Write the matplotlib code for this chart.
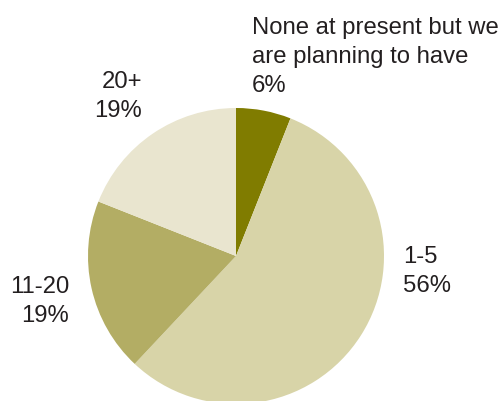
import matplotlib
matplotlib.use("Agg")
import matplotlib.pyplot as plt

labels = ["None at present but we\nare planning to have", "1-5", "11-20", "20+"]
shares = [6, 56, 19, 19]
colors = ["#807c00", "#d8d4a8", "#b3ad64", "#e9e5cf"]

plt.rcParams["font.family"] = ["Liberation Sans", "DejaVu Sans"]

W, H = 502, 401
fig = plt.figure(figsize=(W / 100, H / 100), dpi=100)

# pie occupies a square of 296 px centred at (236, 256) from top-left
r = 148
cx, cy = 236, 256
ax = fig.add_axes([(cx - r) / W, (H - cy - r) / H, 2 * r / W, 2 * r / H])
ax.pie(shares, colors=colors, startangle=90, counterclock=False,
       wedgeprops=dict(linewidth=0))
ax.set_xlim(-1, 1)
ax.set_ylim(-1, 1)
ax.set_aspect("auto")
ax.axis("off")

txt = dict(fontsize=17.2, color="#231f20", va="top", linespacing=1.4)


def put(x, y, s, ha):
    fig.text(x / W, 1 - y / H, s, ha=ha, **txt)


put(252, 17, f"{labels[0]}\n{shares[0]}%", "left")
put(403, 246, f"{labels[1]}\n{shares[1]}%", "left")
put(69, 276, f"{labels[2]}\n{shares[2]}%", "right")
put(142, 71, f"{labels[3]}\n{shares[3]}%", "right")

fig.savefig("out.png", dpi=100)
